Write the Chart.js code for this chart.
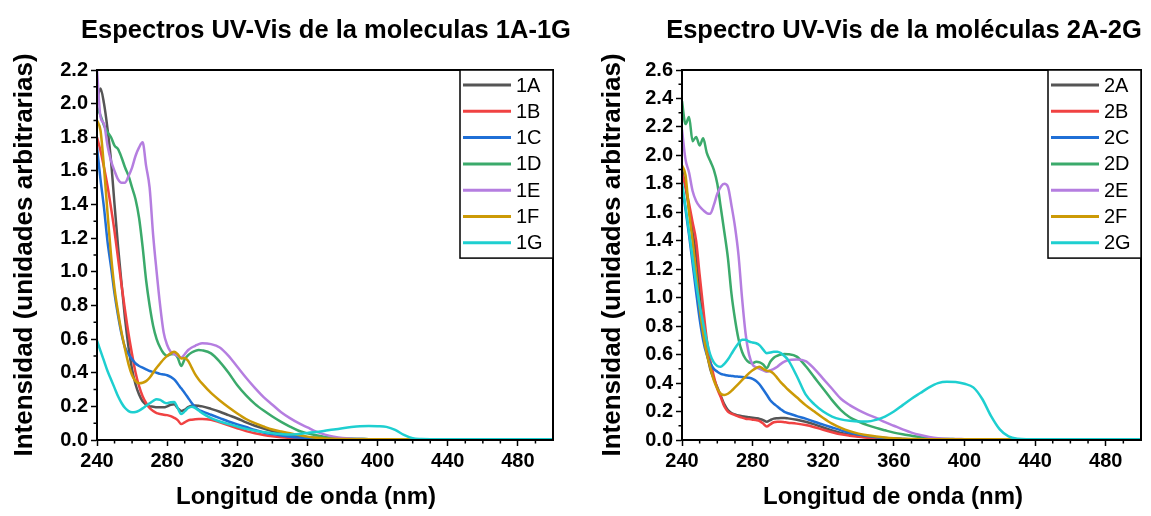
<!DOCTYPE html>
<html>
<head>
<meta charset="utf-8">
<script src="https://cdn.jsdelivr.net/npm/chart.js@4.4.1/dist/chart.umd.min.js"></script>
<style>
  body { margin: 0; background: #fff; }
  #wrap { position: relative; width: 1151px; height: 516px; }
  canvas { position: absolute; top: 0; }
  #left { left: 0; }
  #right { left: 575px; }
</style>
</head>
<body>
<div id="wrap">
  <canvas id="left" width="575" height="516"></canvas>
  <canvas id="right" width="576" height="516"></canvas>
</div>
<script>
// wavelength grid (nm) shared by every spectrum
const wavelengths = [
  240, 242, 244, 246, 248, 250, 252, 254, 256, 258, 260, 262, 264, 266, 268, 270, 272, 274, 276, 278, 280, 282, 284, 286, 288, 290, 292, 294, 296, 298, 300,
  305, 310, 315, 320, 325, 330, 335, 340, 345, 350, 355, 360, 365, 370, 375, 380, 385, 390, 395, 400, 405, 410, 415, 420, 425, 430, 435, 440,
  450, 460, 470, 480, 490, 500
];

const xTicks = [240, 280, 320, 360, 400, 440, 480];
const yTicks1 = [0, 0.2, 0.4, 0.6, 0.8, 1.0, 1.2, 1.4, 1.6, 1.8, 2.0, 2.2];
const yTicks2 = [0, 0.2, 0.4, 0.6, 0.8, 1.0, 1.2, 1.4, 1.6, 1.8, 2.0, 2.2, 2.4, 2.6];

const names1 = ['1A', '1B', '1C', '1D', '1E', '1F', '1G'];
const names2 = ['2A', '2B', '2C', '2D', '2E', '2F', '2G'];
const colors = ['#555555', '#F04242', '#1F6FD6', '#3BAA6B', '#B57EE0', '#CC9A06', '#1ECFD0'];

// molecules 1A-1G
const abs1A = [2.02, 2.09, 2.00, 1.85, 1.66, 1.40, 1.15, 0.93, 0.72, 0.55, 0.42, 0.33, 0.27, 0.23, 0.21, 0.20, 0.198, 0.195, 0.195, 0.194, 0.20, 0.21, 0.212, 0.19, 0.172, 0.18, 0.195, 0.204, 0.205, 0.203, 0.20,
  0.185, 0.168, 0.148, 0.128, 0.105, 0.085, 0.068, 0.053, 0.041, 0.031, 0.023, 0.017, 0.013, 0.010, 0.008, 0.007, 0.006, 0.006, 0.005, 0.005, 0.005, 0.005, 0.005, 0.005, 0.005, 0.005, 0.005, 0.005,
  0.005, 0.005, 0.005, 0.005, 0.005, 0.005];
const abs1B = [1.80, 1.72, 1.62, 1.51, 1.38, 1.24, 1.08, 0.92, 0.77, 0.63, 0.51, 0.40, 0.32, 0.26, 0.22, 0.19, 0.172, 0.16, 0.155, 0.15, 0.148, 0.142, 0.132, 0.118, 0.095, 0.105, 0.117, 0.121, 0.124, 0.125, 0.125,
  0.12, 0.105, 0.088, 0.07, 0.053, 0.04, 0.03, 0.022, 0.016, 0.012, 0.009, 0.007, 0.006, 0.005, 0.004, 0.004, 0.004, 0.004, 0.004, 0.004, 0.004, 0.004, 0.004, 0.004, 0.004, 0.004, 0.004, 0.004,
  0.004, 0.004, 0.004, 0.004, 0.004, 0.004];
const abs1C = [1.74, 1.55, 1.38, 1.18, 1.03, 0.87, 0.74, 0.63, 0.55, 0.51, 0.48, 0.455, 0.44, 0.43, 0.42, 0.41, 0.405, 0.40, 0.393, 0.39, 0.385, 0.375, 0.36, 0.335, 0.307, 0.28, 0.25, 0.22, 0.195, 0.18, 0.17,
  0.15, 0.13, 0.11, 0.093, 0.077, 0.06, 0.045, 0.035, 0.027, 0.02, 0.015, 0.011, 0.008, 0.006, 0.005, 0.005, 0.005, 0.005, 0.005, 0.005, 0.005, 0.005, 0.005, 0.005, 0.005, 0.005, 0.005, 0.005,
  0.005, 0.005, 0.005, 0.005, 0.005, 0.005];
const abs1D = [1.98, 1.93, 1.87, 1.83, 1.80, 1.75, 1.73, 1.68, 1.62, 1.57, 1.50, 1.43, 1.32, 1.15, 0.95, 0.80, 0.68, 0.60, 0.55, 0.515, 0.50, 0.51, 0.512, 0.49, 0.44, 0.48, 0.505, 0.52, 0.53, 0.535, 0.533,
  0.515, 0.465, 0.40, 0.325, 0.265, 0.215, 0.175, 0.14, 0.108, 0.08, 0.055, 0.04, 0.028, 0.018, 0.012, 0.009, 0.007, 0.006, 0.005, 0.005, 0.005, 0.005, 0.005, 0.005, 0.005, 0.005, 0.005, 0.005,
  0.005, 0.005, 0.005, 0.005, 0.005, 0.005];
const abs1E = [2.20, 1.92, 1.88, 1.75, 1.66, 1.60, 1.55, 1.53, 1.53, 1.57, 1.62, 1.69, 1.74, 1.77, 1.63, 1.50, 1.22, 1.00, 0.80, 0.64, 0.565, 0.525, 0.51, 0.50, 0.49, 0.51, 0.535, 0.55, 0.56, 0.57, 0.575,
  0.57, 0.55, 0.50, 0.435, 0.37, 0.31, 0.255, 0.21, 0.165, 0.13, 0.10, 0.075, 0.05, 0.032, 0.02, 0.012, 0.008, 0.006, 0.005, 0.005, 0.005, 0.005, 0.005, 0.005, 0.005, 0.005, 0.005, 0.005,
  0.005, 0.005, 0.005, 0.005, 0.005, 0.005];
const abs1F = [1.90, 1.84, 1.62, 1.35, 1.10, 0.90, 0.76, 0.64, 0.54, 0.45, 0.385, 0.35, 0.337, 0.34, 0.35, 0.37, 0.40, 0.43, 0.455, 0.48, 0.50, 0.515, 0.525, 0.51, 0.485, 0.488, 0.47, 0.43, 0.39, 0.36, 0.335,
  0.28, 0.235, 0.195, 0.158, 0.125, 0.10, 0.08, 0.062, 0.05, 0.04, 0.03, 0.02, 0.013, 0.009, 0.007, 0.006, 0.005, 0.005, 0.005, 0.005, 0.005, 0.005, 0.005, 0.005, 0.005, 0.005, 0.005, 0.005,
  0.005, 0.005, 0.005, 0.005, 0.005, 0.005];
const abs1G = [0.59, 0.53, 0.47, 0.41, 0.36, 0.31, 0.26, 0.22, 0.19, 0.172, 0.165, 0.167, 0.175, 0.188, 0.203, 0.218, 0.232, 0.243, 0.238, 0.225, 0.218, 0.225, 0.226, 0.19, 0.155, 0.17, 0.19, 0.198, 0.19, 0.175, 0.16,
  0.13, 0.11, 0.095, 0.08, 0.066, 0.055, 0.047, 0.04, 0.035, 0.032, 0.036, 0.042, 0.048, 0.055, 0.062, 0.07, 0.077, 0.082, 0.083, 0.082, 0.078, 0.06, 0.03, 0.01, 0.006, 0.005, 0.005, 0.005,
  0.005, 0.005, 0.005, 0.005, 0.005, 0.005];

// molecules 2A-2G
const abs2A = [1.90, 1.78, 1.62, 1.46, 1.30, 1.04, 0.79, 0.62, 0.50, 0.43, 0.37, 0.31, 0.25, 0.21, 0.19, 0.18, 0.172, 0.167, 0.164, 0.16, 0.157, 0.153, 0.148, 0.14, 0.128, 0.14, 0.15, 0.153, 0.155, 0.155, 0.152,
  0.142, 0.128, 0.11, 0.088, 0.068, 0.05, 0.037, 0.027, 0.02, 0.014, 0.01, 0.008, 0.006, 0.005, 0.005, 0.005, 0.005, 0.005, 0.005, 0.005, 0.005, 0.005, 0.005, 0.005, 0.005, 0.005, 0.005, 0.005,
  0.005, 0.005, 0.005, 0.005, 0.005, 0.005];
const abs2B = [1.87, 1.78, 1.66, 1.53, 1.40, 1.16, 0.93, 0.71, 0.56, 0.45, 0.36, 0.30, 0.235, 0.20, 0.185, 0.175, 0.165, 0.157, 0.15, 0.147, 0.143, 0.14, 0.133, 0.115, 0.094, 0.11, 0.125, 0.128, 0.128, 0.125, 0.122,
  0.115, 0.105, 0.09, 0.072, 0.055, 0.04, 0.03, 0.022, 0.016, 0.012, 0.009, 0.007, 0.006, 0.005, 0.004, 0.004, 0.004, 0.004, 0.004, 0.004, 0.004, 0.004, 0.004, 0.004, 0.004, 0.004, 0.004, 0.004,
  0.004, 0.004, 0.004, 0.004, 0.004, 0.004];
const abs2C = [1.78, 1.62, 1.44, 1.24, 1.04, 0.85, 0.70, 0.60, 0.54, 0.50, 0.48, 0.465, 0.458, 0.453, 0.45, 0.447, 0.445, 0.443, 0.44, 0.437, 0.43, 0.415, 0.39, 0.355, 0.318, 0.28, 0.255, 0.235, 0.215, 0.198, 0.188,
  0.168, 0.15, 0.128, 0.108, 0.088, 0.068, 0.05, 0.038, 0.028, 0.02, 0.014, 0.01, 0.007, 0.005, 0.005, 0.005, 0.005, 0.005, 0.005, 0.005, 0.005, 0.005, 0.005, 0.005, 0.005, 0.005, 0.005, 0.005,
  0.005, 0.005, 0.005, 0.005, 0.005, 0.005];
const abs2D = [2.38, 2.22, 2.27, 2.10, 2.13, 2.07, 2.12, 2.02, 1.96, 1.90, 1.80, 1.63, 1.46, 1.28, 1.03, 0.85, 0.71, 0.62, 0.57, 0.545, 0.54, 0.55, 0.545, 0.53, 0.505, 0.55, 0.578, 0.592, 0.60, 0.604, 0.603,
  0.586, 0.52, 0.44, 0.36, 0.28, 0.21, 0.16, 0.13, 0.105, 0.085, 0.068, 0.052, 0.04, 0.03, 0.02, 0.013, 0.009, 0.007, 0.006, 0.005, 0.005, 0.005, 0.005, 0.005, 0.005, 0.005, 0.005, 0.005,
  0.005, 0.005, 0.005, 0.005, 0.005, 0.005];
const abs2E = [2.18, 1.97, 1.88, 1.75, 1.68, 1.64, 1.615, 1.595, 1.59, 1.65, 1.73, 1.78, 1.80, 1.78, 1.65, 1.50, 1.30, 1.00, 0.75, 0.60, 0.53, 0.51, 0.50, 0.49, 0.48, 0.49, 0.50, 0.515, 0.535, 0.55, 0.56,
  0.565, 0.555, 0.50, 0.43, 0.36, 0.29, 0.245, 0.21, 0.18, 0.155, 0.125, 0.10, 0.075, 0.052, 0.035, 0.022, 0.013, 0.009, 0.007, 0.006, 0.005, 0.005, 0.005, 0.005, 0.005, 0.005, 0.005, 0.005,
  0.005, 0.005, 0.005, 0.005, 0.005, 0.005];
const abs2F = [1.93, 1.86, 1.60, 1.40, 1.17, 0.93, 0.75, 0.61, 0.51, 0.42, 0.36, 0.325, 0.316, 0.325, 0.345, 0.37, 0.395, 0.42, 0.445, 0.47, 0.49, 0.505, 0.515, 0.50, 0.487, 0.482, 0.465, 0.435, 0.405, 0.38, 0.355,
  0.30, 0.245, 0.20, 0.155, 0.115, 0.085, 0.062, 0.045, 0.033, 0.024, 0.017, 0.012, 0.009, 0.007, 0.006, 0.005, 0.005, 0.005, 0.005, 0.005, 0.005, 0.005, 0.005, 0.005, 0.005, 0.005, 0.005, 0.005,
  0.005, 0.005, 0.005, 0.005, 0.005, 0.005];
const abs2G = [1.81, 1.64, 1.46, 1.28, 1.10, 0.95, 0.82, 0.70, 0.60, 0.545, 0.52, 0.515, 0.535, 0.565, 0.605, 0.645, 0.68, 0.705, 0.705, 0.692, 0.685, 0.68, 0.665, 0.635, 0.61, 0.615, 0.62, 0.62, 0.61, 0.59, 0.565,
  0.45, 0.32, 0.25, 0.20, 0.165, 0.145, 0.135, 0.13, 0.13, 0.142, 0.165, 0.20, 0.245, 0.29, 0.33, 0.37, 0.40, 0.41, 0.408, 0.395, 0.37, 0.29, 0.17, 0.075, 0.025, 0.008, 0.005, 0.005,
  0.005, 0.005, 0.005, 0.005, 0.005, 0.005];

const series1 = [abs1A, abs1B, abs1C, abs1D, abs1E, abs1F, abs1G];
const series2 = [abs2A, abs2B, abs2C, abs2D, abs2E, abs2F, abs2G];

const fontFamily = "'Liberation Sans', Arial, sans-serif";

// frame, minor ticks, boxed legend, panel title and x title (Origin style)
const decorPlugin = {
  id: 'decor',
  afterDraw(chart, args, opts) {
    const { ctx, chartArea: a } = chart;
    const xs = chart.scales.x, ys = chart.scales.y;
    ctx.save();
    ctx.strokeStyle = '#000';
    ctx.lineWidth = 1.5;
    ctx.beginPath();
    for (let v = xs.min + 10; v < xs.max; v += 10) {
      if ((v - xs.min) % 40 === 0) continue;
      const px = xs.getPixelForValue(v);
      ctx.moveTo(px, a.bottom);
      ctx.lineTo(px, a.bottom + 3.5);
    }
    for (let k = 1; k < Math.round(ys.max * 10); k += 2) {
      const py = ys.getPixelForValue(k / 10);
      ctx.moveTo(a.left - 3.5, py);
      ctx.lineTo(a.left, py);
    }
    ctx.stroke();

    ctx.lineWidth = 2;
    ctx.strokeRect(a.left, a.top, a.right - a.left, a.bottom - a.top);

    // legend box in the top right corner
    const lw = 93, rowH = 26.3;
    const sets = chart.data.datasets;
    const lx = a.right - lw, ly = a.top;
    const lh = rowH * sets.length + 4;
    ctx.fillStyle = '#fff';
    ctx.fillRect(lx, ly, lw, lh);
    ctx.lineWidth = 1.5;
    ctx.strokeRect(lx, ly, lw, lh);
    ctx.font = `20px ${fontFamily}`;
    ctx.textBaseline = 'middle';
    ctx.textAlign = 'left';
    sets.forEach((ds, i) => {
      const yy = ly + 15 + i * rowH;
      ctx.strokeStyle = ds.borderColor;
      ctx.lineWidth = 3;
      ctx.beginPath();
      ctx.moveTo(lx + 3, yy);
      ctx.lineTo(lx + 51, yy);
      ctx.stroke();
      ctx.fillStyle = '#000';
      ctx.fillText(ds.label, lx + 56, yy + 1);
    });

    ctx.fillStyle = '#000';
    ctx.textAlign = 'center';
    ctx.font = `bold 25.5px ${fontFamily}`;
    ctx.fillText(opts.title, opts.titleX, 31);
    ctx.font = `bold 24px ${fontFamily}`;
    ctx.fillText(opts.xTitle, opts.xTitleX, 497);
    ctx.restore();
  }
};

function makePanel(canvasId, names, series, yMax, yTicks, title, axisWidth, padRight, yTitlePad, titleX, xTitleX) {
  const datasets = series.map((vals, i) => ({
    label: names[i],
    data: wavelengths.map((w, j) => ({ x: w, y: vals[j] })),
    borderColor: colors[i],
    backgroundColor: colors[i],
    borderWidth: 2.5,
    pointRadius: 0,
    cubicInterpolationMode: 'monotone',
    order: series.length - i
  }));

  const tickFont = { family: fontFamily, size: 20, weight: 'bold' };

  return new Chart(document.getElementById(canvasId), {
    type: 'line',
    data: { datasets: datasets },
    options: {
      responsive: false,
      animation: false,
      devicePixelRatio: 1,
      layout: { padding: { left: 0, right: padRight, top: 70, bottom: 0 } },
      plugins: {
        legend: { display: false },
        tooltip: { enabled: false },
        title: { display: false },
        decor: { title: title, titleX: titleX, xTitle: 'Longitud de onda (nm)', xTitleX: xTitleX }
      },
      scales: {
        x: {
          type: 'linear',
          min: 240,
          max: 500,
          afterBuildTicks: scale => { scale.ticks = xTicks.map(v => ({ value: v })); },
          afterFit: scale => { scale.height = 76; },
          ticks: { color: '#000', font: tickFont, padding: 3, maxRotation: 0 },
          grid: { drawOnChartArea: false, tickLength: 6, tickWidth: 1.5, tickColor: '#000' },
          border: { display: true, color: '#000', width: 2 }
        },
        y: {
          min: 0,
          max: yMax,
          afterBuildTicks: scale => { scale.ticks = yTicks.map(v => ({ value: v })); },
          afterFit: scale => { scale.width = axisWidth; },
          ticks: { color: '#000', font: tickFont, padding: 3, callback: v => v.toFixed(1) },
          grid: { drawOnChartArea: false, tickLength: 6, tickWidth: 1.5, tickColor: '#000' },
          border: { display: true, color: '#000', width: 2 },
          title: {
            display: true,
            text: 'Intensidad (unidades arbitrarias)',
            color: '#000',
            font: { family: fontFamily, size: 26, weight: 'bold' },
            padding: { top: yTitlePad, bottom: 0 }
          }
        }
      }
    },
    plugins: [decorPlugin]
  });
}

makePanel('left', names1, series1, 2.2, yTicks1, 'Espectros UV-Vis de la moleculas 1A-1G', 97, 22, 9.5, 326, 306);
makePanel('right', names2, series2, 2.6, yTicks2, 'Espectro UV-Vis de la moléculas 2A-2G', 107, 10, 22.5, 329, 318);
</script>
</body>
</html>
